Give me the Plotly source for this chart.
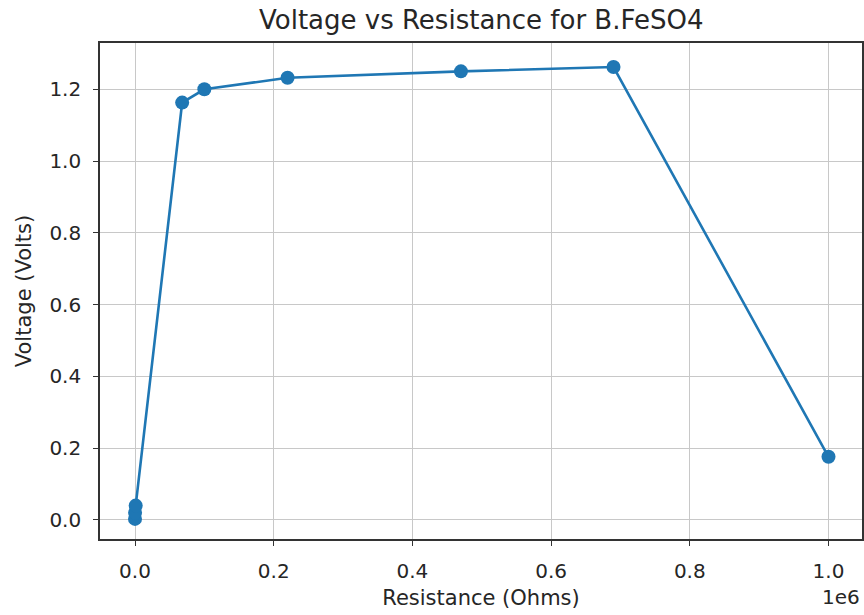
import plotly.graph_objects as go

resistance_ohms = [10, 100, 1000, 68000, 100000, 220000, 470000, 690000, 1000000]
voltage_volts = [0.003, 0.02, 0.04, 1.163, 1.20, 1.232, 1.250, 1.262, 0.176]

x_tick_vals = [0, 200000, 400000, 600000, 800000, 1000000]
x_tick_text = ["0.0", "0.2", "0.4", "0.6", "0.8", "1.0"]
y_tick_vals = [0.0, 0.2, 0.4, 0.6, 0.8, 1.0, 1.2]
y_tick_text = ["0.0", "0.2", "0.4", "0.6", "0.8", "1.0", "1.2"]

FONT = "DejaVu Sans"
BLUE = "#1f77b4"
TXT = "#262626"

fig = go.Figure()
fig.add_trace(go.Scatter(
    x=resistance_ohms, y=voltage_volts, mode="lines+markers",
    line=dict(color=BLUE, width=2.6),
    marker=dict(color=BLUE, size=14),
    showlegend=False,
))

axis_common = dict(
    showline=True, linecolor="#333333", linewidth=1.6, mirror=True,
    showgrid=True, gridcolor="#c8c8c8", gridwidth=1.4,
    ticks="outside", ticklen=5, tickwidth=1.4, tickcolor="#333333",
    zeroline=False, automargin=False,
    tickfont=dict(family=FONT, size=20, color=TXT),
)

fig.update_layout(
    width=864, height=615,
    paper_bgcolor="white", plot_bgcolor="white",
    margin=dict(l=100, r=2, t=43, b=76),
    font=dict(family=FONT, color=TXT),
    title=dict(text="Voltage vs Resistance for B.FeSO4", x=0.557, xanchor="center",
               y=0.968, yanchor="middle", font=dict(family=FONT, size=26, color=TXT)),
    xaxis=dict(range=[-50470, 1048300], tickvals=x_tick_vals, ticktext=x_tick_text,
               ticklabelstandoff=8,
               title=dict(text="Resistance (Ohms)", font=dict(family=FONT, size=21, color=TXT), standoff=9),
               **axis_common),
    yaxis=dict(range=[-0.053, 1.329], tickvals=y_tick_vals, ticktext=y_tick_text,
               ticklabelstandoff=8,
               title=dict(text="Voltage (Volts)", font=dict(family=FONT, size=21, color=TXT), standoff=12),
               **axis_common),
)

fig.add_annotation(text="1e6", xref="paper", yref="paper", x=1.0, y=-0.117,
                   xanchor="right", yanchor="middle", showarrow=False,
                   font=dict(family=FONT, size=20, color=TXT))

fig.write_html("out.html", config={"displayModeBar": False},
               post_script="document.body.style.margin='0px';document.body.style.overflow='hidden';")
